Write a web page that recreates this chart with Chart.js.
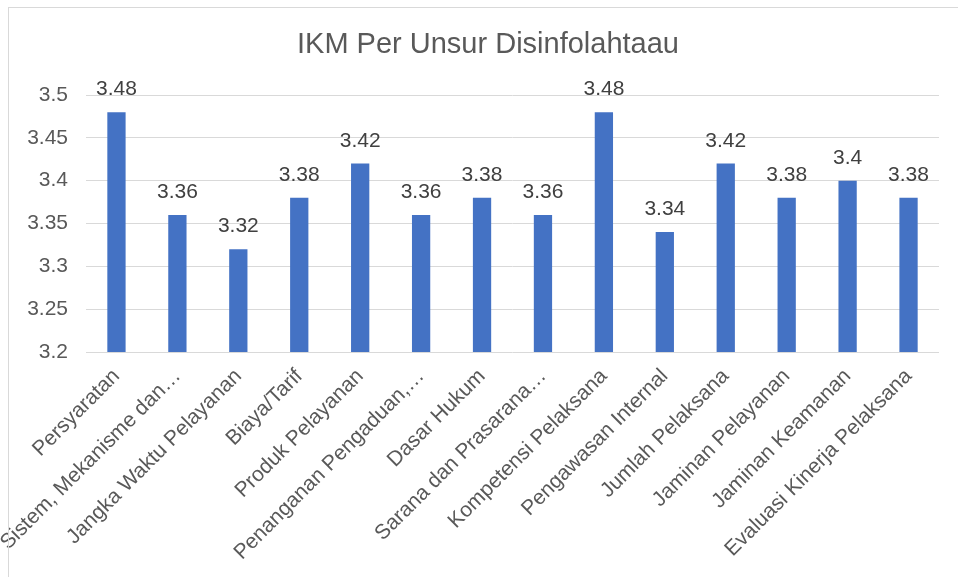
<!DOCTYPE html>
<html>
<head>
<meta charset="utf-8">
<script src="https://cdn.jsdelivr.net/npm/chart.js@4/dist/chart.umd.min.js"></script>
<style>
  body { margin: 0; background: #fff; }
  #wrap { position: relative; width: 958px; height: 577px; }
  #frame { position: absolute; left: 8px; top: 7px; right: 0; bottom: 0; border-left: 1px solid #d9d9d9; border-top: 1px solid #d9d9d9; }
</style>
</head>
<body>
<div id="wrap">
  <div id="frame"></div>
  <canvas id="myChart" width="958" height="577"></canvas>
</div>
<script>
'use strict';
// categories (as shown on the axis)
var labels = ['Persyaratan', 'Sistem, Mekanisme dan\u2026', 'Jangka Waktu Pelayanan', 'Biaya/Tarif',
  'Produk Pelayanan', 'Penanganan Pengaduan,\u2026', 'Dasar Hukum', 'Sarana dan Prasarana\u2026',
  'Kompetensi Pelaksana', 'Pengawasan Internal', 'Jumlah Pelaksana', 'Jaminan Pelayanan',
  'Jaminan Keamanan', 'Evaluasi Kinerja Pelaksana'];
// IKM value per unsur
var ikmValues = [3.48, 3.36, 3.32, 3.38, 3.42, 3.36, 3.38, 3.36, 3.48, 3.34, 3.42, 3.38, 3.4, 3.38];
// y axis ticks
var yTicks = [3.2, 3.25, 3.3, 3.35, 3.4, 3.45, 3.5];
var chartTitle = 'IKM Per Unsur Disinfolahtaau';

var fontFamily = '"Liberation Sans", Arial, sans-serif';

// title centred on the frame, and the value above each bar
var valueLabels = {
  id: 'valueLabels',
  afterDatasetsDraw: function (chart) {
    var ctx = chart.ctx;
    var meta = chart.getDatasetMeta(0);
    ctx.save();
    ctx.font = '29px ' + fontFamily;
    ctx.fillStyle = '#595959';
    ctx.textAlign = 'center';
    ctx.textBaseline = 'alphabetic';
    ctx.fillText(chartTitle, 488, 53);

    ctx.font = '21px ' + fontFamily;
    ctx.fillStyle = '#404040';
    for (var i = 0; i < meta.data.length; i++) {
      var bar = meta.data[i];
      ctx.fillText(String(ikmValues[i]), bar.x, bar.y - 17);
    }
    ctx.restore();
  }
};

var ctx = document.getElementById('myChart').getContext('2d');
var chart = new Chart(ctx, {
  type: 'bar',
  data: {
    labels: labels,
    datasets: [{
      label: 'IKM',
      data: ikmValues,
      backgroundColor: '#4472C4',
      borderWidth: 0,
      barPercentage: 0.3,
      categoryPercentage: 1
    }]
  },
  options: {
    responsive: false,
    animation: false,
    layout: { padding: { top: 95, left: 0, right: 19, bottom: 0 } },
    plugins: {
      legend: { display: false },
      tooltip: { enabled: false },
      title: { display: false }
    },
    scales: {
      x: {
        grid: { display: false },
        border: { display: false },
        ticks: {
          color: '#595959',
          font: { family: fontFamily, size: 21 },
          minRotation: 45,
          maxRotation: 45,
          autoSkip: false,
          padding: 4
        },
        afterFit: function (scale) { scale.height = 225; }
      },
      y: {
        min: yTicks[0],
        max: yTicks[yTicks.length - 1],
        border: { display: false },
        grid: { color: '#d9d9d9', drawTicks: false },
        afterBuildTicks: function (scale) {
          scale.ticks = yTicks.map(function (v) { return { value: v }; });
        },
        ticks: {
          color: '#595959',
          font: { family: fontFamily, size: 21 },
          padding: 18,
          callback: function (v) { return String(Math.round(v * 100) / 100); }
        },
        afterFit: function (scale) { scale.width = 86; }
      }
    }
  },
  plugins: [valueLabels]
});
</script>
</body>
</html>
